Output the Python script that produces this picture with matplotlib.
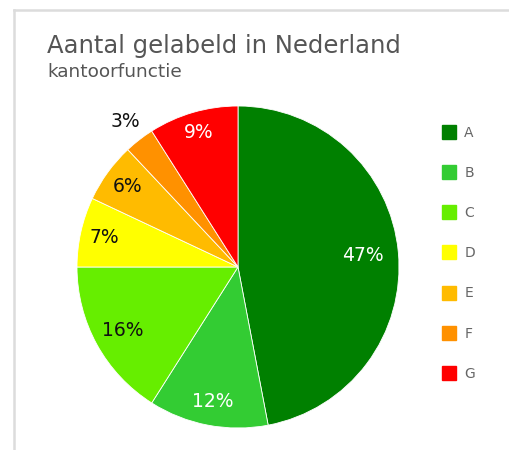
import matplotlib
matplotlib.use("Agg")
import matplotlib.pyplot as plt
from matplotlib.lines import Line2D
import numpy as np

categories = ["A", "B", "C", "D", "E", "F", "G"]
values = [47, 12, 16, 7, 6, 3, 9]
colors = ["#008000", "#33cc33", "#66ee00", "#ffff00", "#ffbb00", "#ff9100", "#ff0000"]
label_colors = ["white", "white", "#111111", "#111111", "#111111", "#111111", "white"]
label_dist = [0.78, 0.85, 0.82, 0.85, 0.85, 1.14, 0.87]

title = "Aantal gelabeld in Nederland"
subtitle = "kantoorfunctie"

plt.rcParams['font.family'] = ['DejaVu Sans']

fig = plt.figure(figsize=(5.1, 4.5), dpi=100)
fig.patch.set_facecolor("white")

# frame lines (top and left)
fig.add_artist(Line2D([14/510, 1.0], [1-10/450, 1-10/450], color="#dcdcdc", lw=1.8, transform=fig.transFigure))
fig.add_artist(Line2D([14/510, 14/510], [0, 1-10/450], color="#dcdcdc", lw=1.8, transform=fig.transFigure))

ax = fig.add_axes([(238-161)/510, (450-428)/450, 322/510, 322/450])
wedges, _ = ax.pie(values, colors=colors, startangle=90, counterclock=False,
                   wedgeprops=dict(edgecolor="white", linewidth=0.6))
total = sum(values)
for w, v, c, d in zip(wedges, values, label_colors, label_dist):
    ang = np.deg2rad((w.theta1 + w.theta2) / 2)
    ax.text(d*np.cos(ang), d*np.sin(ang), f"{round(100*v/total)}%", color=c,
            ha="center", va="center", fontsize=13.5)
ax.set_xlim(-1, 1)
ax.set_ylim(-1, 1)
ax.set_aspect("equal")
ax.axis("off")

fig.text(47/510, 1-46/450, title, fontsize=17.5, color="#555555", va="center", ha="left")
fig.text(47/510, 1-72/450, subtitle, fontsize=13.3, color="#555555", va="center", ha="left")

handles = [Line2D([], [], marker="s", linestyle="none", markersize=10,
                  markerfacecolor=c, markeredgecolor=c) for c in colors]
fig.legend(handles, categories, loc="upper left", bbox_to_anchor=(442/510, 1-126/450),
           frameon=False, fontsize=10, labelcolor="#666666", labelspacing=1.88,
           handlelength=1.0, handletextpad=0.6, borderpad=0, borderaxespad=0)

fig.savefig("out.png", dpi=100)
